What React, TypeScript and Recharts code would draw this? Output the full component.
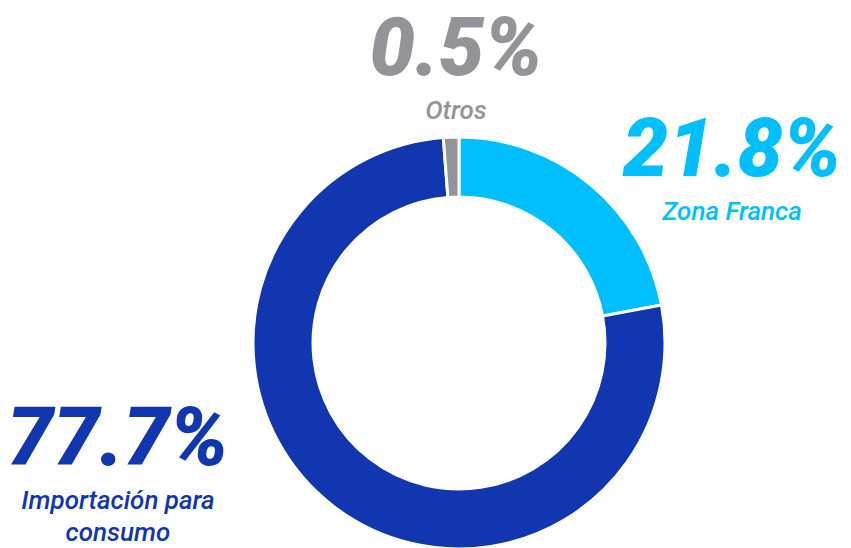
import React from "react";
import { PieChart, Pie, Cell } from "recharts";

const categories = ["Zona Franca", "Importación para consumo", "Otros"];
const values = [21.8, 77.7, 0.5];
const valueLabels = ["21.8%", "77.7%", "0.5%"];
const colors = ["#00BFFF", "#1235B0", "#929497"];

const data = categories.map((name, i) => ({ name, value: values[i] }));

const labelPos = [
  { cx: 732, top: 101, labelTop: 195, width: 260, size: 81 },
  { cx: 118, top: 389, labelTop: 484, width: 240, size: 82 },
  { cx: 456, top: 0, labelTop: 94, width: 240, size: 81 },
];

export default function App() {
  return (
    <div
      style={{
        position: "absolute",
        left: 0,
        top: 0,
        width: 851,
        height: 548,
        background: "#ffffff",
        overflow: "hidden",
        fontFamily: "Roboto, sans-serif",
      }}
    >
      <PieChart width={851} height={548} margin={{ top: 0, right: 0, bottom: 0, left: 0 }}>
        <Pie
          data={data}
          dataKey="value"
          nameKey="name"
          cx={459}
          cy={343}
          innerRadius={146}
          outerRadius={206}
          startAngle={90}
          endAngle={-270}
          minAngle={2.6}
          stroke="#ffffff"
          strokeWidth={3}
          isAnimationActive={false}
        >
          {data.map((d, i) => (
            <Cell key={d.name} fill={colors[i]} />
          ))}
        </Pie>
      </PieChart>
      {categories.map((name, i) => (
        <React.Fragment key={name}>
          <div
            style={{
              position: "absolute",
              left: labelPos[i].cx - labelPos[i].width / 2,
              width: labelPos[i].width,
              top: labelPos[i].top,
              textAlign: "center",
              fontSize: labelPos[i].size,
              lineHeight: "96px",
              fontWeight: 900,
              fontStyle: "italic",
              color: colors[i],
            }}
          >
            {valueLabels[i]}
          </div>
          <div
            style={{
              position: "absolute",
              left: labelPos[i].cx - labelPos[i].width / 2,
              width: labelPos[i].width,
              top: labelPos[i].labelTop,
              textAlign: "center",
              fontSize: 26,
              lineHeight: "32px",
              fontWeight: 500,
              fontStyle: "italic",
              color: colors[i],
            }}
          >
            {name}
          </div>
        </React.Fragment>
      ))}
    </div>
  );
}
